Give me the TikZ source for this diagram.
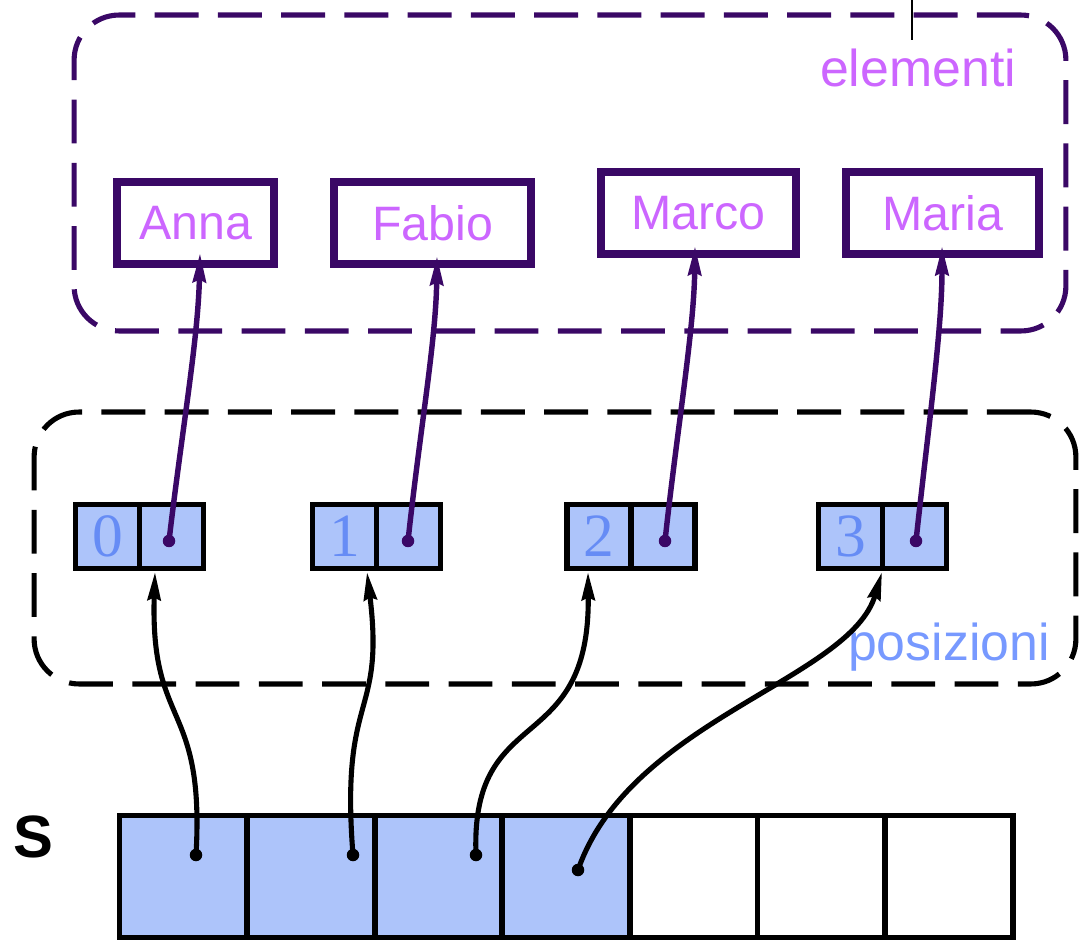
\documentclass[tikz,border=0pt]{standalone}
\usepackage{fontspec}
\setmainfont{Liberation Sans}
\newfontfamily\serifnum{Liberation Serif}
\usetikzlibrary{arrows.meta}
\definecolor{dpurple}{RGB}{58,8,102}
\definecolor{violettext}{RGB}{204,102,255}
\definecolor{cellblue}{RGB}{173,196,250}
\definecolor{numblue}{RGB}{102,140,245}
\definecolor{posblue}{RGB}{119,153,255}
\tikzset{
  group/.style={draw, line width=2.9pt, dash pattern=on 25pt off 11pt, rounded corners=0.9cm, inner sep=0pt},
  namebox/.style={draw=dpurple, line width=5pt, fill=white, inner sep=0pt, minimum height=1.64cm,
    text=violettext, font=\fontsize{27.5}{30}\selectfont},
  idxcell/.style={draw=black, line width=3.3pt, fill=cellblue, inner sep=0pt, minimum width=1.28cm, minimum height=1.28cm,
    text=numblue, font=\serifnum\fontsize{35}{36}\selectfont},
  arrcell/.style={draw=black, line width=3.3pt, inner sep=0pt, minimum width=2.552cm, minimum height=2.44cm},
  purplelink/.style={draw=dpurple, line width=3.1pt, -{Stealth[length=0.58cm, width=0.26cm, inset=0.05cm]}},
  blacklink/.style={draw=black, line width=2.9pt, -{Stealth[length=0.56cm, width=0.26cm, inset=0.05cm]}},
  dotp/.style={circle, fill=dpurple, inner sep=0pt, minimum size=0.25cm},
  dotb/.style={circle, fill=black, inner sep=0pt, minimum size=0.25cm},
  lbl/.style={inner sep=0pt, font=\fontsize{29.5}{31}\selectfont}
}
\begin{document}
\begin{tikzpicture}[x=0.02cm,y=-0.02cm]
\useasboundingbox (0,0) rectangle (1079,942);
% groups
\node[group, draw=dpurple, minimum width=19.84cm, minimum height=6.32cm] (elem) at (570,173) {};
\node[group, draw=black, minimum width=20.84cm, minimum height=5.44cm] (pos) at (555,548) {};
\coordinate (tickTop) at (912,0);
\coordinate (tickBot) at (912,40);
\draw[line width=0.8pt] (tickTop) -- (tickBot);
\node[lbl, text=violettext] (elemlbl) at (918,68) {elementi};
\node[lbl, text=posblue] (poslbl) at (949,647) {posizioni};
% names
\node[namebox, minimum width=3.14cm] (anna) at (195.5,223) {Anna};
\node[namebox, minimum width=3.94cm] (fabio) at (432.5,223) {Fabio};
\node[namebox, minimum width=3.90cm] (marco) at (698.5,213) {Marco};
\node[namebox, minimum width=3.86cm] (maria) at (942.5,213) {Maria};
% index cells
\node[idxcell] (n0) at (107.5,536.5) {0};
\node[idxcell] (r0) at (171.5,536.5) {};
\node[idxcell] (n1) at (344.5,536.5) {1};
\node[idxcell] (r1) at (408.5,536.5) {};
\node[idxcell] (n2) at (599,536.5) {2};
\node[idxcell] (r2) at (663,536.5) {};
\node[idxcell] (n3) at (850.5,536.5) {3};
\node[idxcell] (r3) at (914.5,536.5) {};
% array S
\node[font=\bfseries\fontsize{34}{36}\selectfont, inner sep=0pt] (S) at (33,837) {S};
\foreach \i in {0,...,6} {
  \pgfmathsetmacro{\cx}{183.3+127.6*\i}
  \ifnum\i<4
    \node[arrcell, fill=cellblue] (a\i) at (\cx,876.5) {};
  \else
    \node[arrcell, fill=white] (a\i) at (\cx,876.5) {};
  \fi
}
% dots
\node[dotp] (p0) at (169,541) {};
\node[dotp] (p1) at (408,541) {};
\node[dotp] (p2) at (665,541) {};
\node[dotp] (p3) at (916,541) {};
\node[dotb] (d0) at (196,855) {};
\node[dotb] (d1) at (353,855) {};
\node[dotb] (d2) at (476,855) {};
\node[dotb] (d3) at (578,870) {};
% targets
\coordinate (e0) at (200,253);
\coordinate (e1) at (437,256);
\coordinate (e2) at (695,246);
\coordinate (e3) at (942,246);
\coordinate (t0) at (155,572);
\coordinate (t1) at (367,572);
\coordinate (t2) at (588,572);
\coordinate (t3) at (882,572);
% purple links
\draw[purplelink] (p0.center) .. controls (182,430) and (198,340) .. (e0);
\draw[purplelink] (p1.center) .. controls (420,430) and (436,340) .. (e1);
\draw[purplelink] (p2.center) .. controls (677,430) and (694,330) .. (e2);
\draw[purplelink] (p3.center) .. controls (928,430) and (942,330) .. (e3);
% black links
\draw[blacklink] (d0.center) .. controls (205,700) and (150,730) .. (t0);
\draw[blacklink] (d1.center) .. controls (340,690) and (385,720) .. (t1);
\draw[blacklink] (d2.center) .. controls (470,700) and (590,760) .. (t2);
\draw[blacklink] (d3.center) .. controls (630,720) and (850,680) .. (t3);
\end{tikzpicture}
\end{document}
